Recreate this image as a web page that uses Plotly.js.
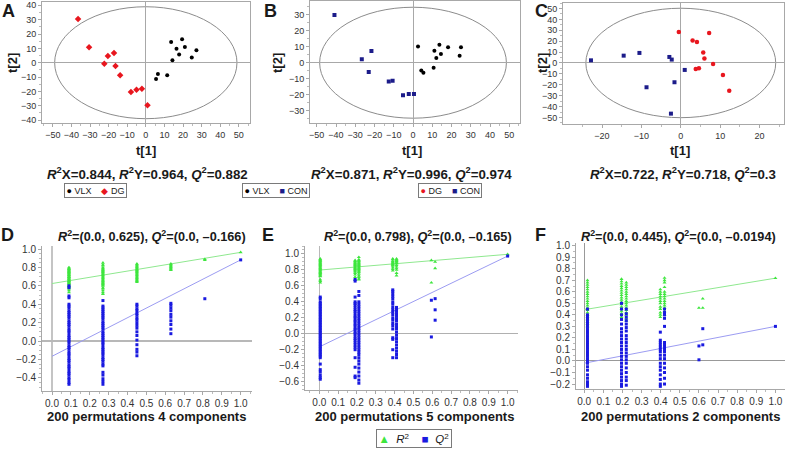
<!DOCTYPE html>
<html>
<head>
<meta charset="utf-8">
<script src="https://cdn.plot.ly/plotly-3.0.1.min.js"></script>
<style>html,body{margin:0;padding:0;background:#fff;}#chart{width:785px;height:449px;}</style>
</head>
<body>
<div id="chart"></div>
<script>
// ---------- Score plots (t[1], t[2]) ----------
const A_VLX_t1 = [13.6, 19.5, 16.5, 21.0, 27.2, 17.9, 24.7, 14.3, 6.5, 11.5, 5.5];
const A_VLX_t2 = [14.4, 16.3, 9.7, 10.9, 8.6, 5.8, 3.7, 1.7, -7.9, -8.8, -11.3];
const A_DG_t1  = [-36.4, -30.5, -20.4, -17.1, -22.3, -16.3, -13.8, -8.0, -5.0, -2.1, 0.9];
const A_DG_t2  = [30.4, 10.7, 4.7, 6.7, -0.7, -2.3, -8.8, -20.4, -18.8, -18.1, -29.6];

const B_VLX_t1 = [2.6, 13.7, 11.1, 18.2, 24.9, 14.5, 12.1, 24.2, 10.7, 4.3, 5.4];
const B_VLX_t2 = [10.2, 11.3, 7.5, 9.6, 9.6, 5.4, 2.9, 4.4, -3.1, -4.8, -6.3];
const B_CON_t1 = [-40.8, -21.6, -26.6, -23.0, -12.6, -10.6, -5.2, -2.2, 0.5];
const B_CON_t2 = [29.8, 7.3, 2.1, -5.8, -11.7, -11.3, -20.4, -19.6, -19.6];

const C_DG_t1  = [-0.5, 7.2, 3.0, 4.1, 5.7, 6.0, 8.2, 4.6, 3.8, 10.7, 12.3];
const C_DG_t2  = [28.4, 27.5, 20.5, 19.3, 9.5, 4.0, -0.9, -4.9, -5.5, -11.0, -25.4];
const C_CON_t1 = [-22.8, -14.5, -10.5, -2.9, -2.3, 1.0, -1.6, -8.7, -2.5];
const C_CON_t2 = [2.4, 6.7, 9.2, 5.5, 3.1, -6.4, -17.7, -22.3, -46.5];

// Hotelling T2 ellipse half-axes [t1, t2]
const A_ellipse = [49, 39];
const B_ellipse = [48.5, 34.7];
const C_ellipse = [24.1, 50.2];

const statsA = "<b><i>R</i><sup>2</sup>X=0.844, <i>R</i><sup>2</sup>Y=0.964, <i>Q</i><sup>2</sup>=0.882</b>";
const statsB = "<b><i>R</i><sup>2</sup>X=0.871, <i>R</i><sup>2</sup>Y=0.996, <i>Q</i><sup>2</sup>=0.974</b>";
const statsC = "<b><i>R</i><sup>2</sup>X=0.722, <i>R</i><sup>2</sup>Y=0.718, <i>Q</i><sup>2</sup>=0.3</b>";

// ---------- Permutation tests ----------
// D: 4 components
const D_cols = [0.09, 0.27, 0.45, 0.63, 0.81];
const D_R2 = [
  [0.80,0.79,0.785,0.78,0.77,0.76,0.755,0.75,0.74,0.735,0.73,0.72,0.715,0.71,0.70,0.695,0.69,0.68,0.675,0.67,0.66,0.655,0.65,0.64,0.635,0.63,0.62,0.61,0.60,0.59,0.58,0.57,0.55,0.53],
  [0.85,0.83,0.82,0.80,0.79,0.78,0.77,0.76,0.75,0.74,0.73,0.72,0.71,0.70,0.69,0.68,0.67,0.66,0.65,0.64,0.63,0.62,0.61,0.60,0.58,0.57,0.55,0.53,0.51],
  [0.84,0.83,0.82,0.81,0.80,0.79,0.78,0.77,0.76,0.75,0.74,0.73,0.72,0.71,0.70,0.69,0.68,0.67,0.66,0.65,0.64],
  [0.84,0.83,0.82,0.81,0.80,0.79,0.78,0.77],
  [0.89,0.88]
];
const D_Q2 = [
  [0.60,0.58,0.49,0.47,0.40,0.38,0.36,0.33,0.31,0.29,0.27,0.25,0.22,0.20,0.18,0.16,0.13,0.11,0.09,0.06,0.04,0.02,0.00,-0.02,-0.05,-0.07,-0.09,-0.12,-0.14,-0.16,-0.19,-0.21,-0.23,-0.26,-0.28,-0.30,-0.33,-0.35,-0.37,-0.40,-0.42,-0.45,-0.47],
  [0.44,0.38,0.36,0.34,0.32,0.30,0.28,0.26,0.24,0.21,0.19,0.17,0.15,0.13,0.10,0.08,0.06,0.04,0.02,0.00,-0.02,-0.04,-0.07,-0.09,-0.11,-0.13,-0.15,-0.18,-0.20,-0.22,-0.25,-0.27,-0.34,-0.37,-0.41,-0.44,-0.47],
  [0.40,0.38,0.35,0.33,0.30,0.28,0.25,0.23,0.20,0.17,0.14,0.10,0.06,0.01,-0.04,-0.09,-0.12,-0.16],
  [0.41,0.39,0.36,0.33,0.29,0.26,0.22,0.18,0.13,0.08],
  [0.46]
];
const D_R2_intercept = 0.625, D_R2_orig = 0.964;
const D_Q2_intercept = -0.166, D_Q2_orig = 0.882;

// E: 5 components
const E_cols = [0.005, 0.19, 0.21, 0.39, 0.41, 0.595, 0.615];
const E_R2 = [
  [0.94,0.93,0.92,0.91,0.90,0.89,0.88,0.87,0.86,0.85,0.84,0.83,0.82,0.81,0.80,0.79,0.78,0.77,0.76,0.75,0.74,0.73,0.72,0.68,0.66,0.64],
  [0.92,0.91,0.90,0.89,0.88,0.87,0.86,0.85,0.84,0.83,0.82,0.81,0.80,0.79,0.78,0.76,0.74,0.71,0.68],
  [0.96,0.93,0.92,0.91,0.90,0.89,0.88,0.87,0.86,0.85,0.84,0.83,0.82,0.81,0.80,0.79,0.78,0.77,0.75,0.73,0.71,0.69,0.68],
  [0.94,0.93,0.91,0.90,0.89,0.88,0.87,0.86,0.85,0.83,0.81,0.79],
  [0.94,0.93,0.92,0.91,0.90,0.89,0.88,0.86,0.84,0.82,0.80,0.76,0.73],
  [0.92,0.64],
  [0.90,0.82]
];
const E_Q2 = [
  [0.46,0.44,0.40,0.38,0.36,0.34,0.32,0.30,0.28,0.26,0.24,0.22,0.20,0.18,0.16,0.14,0.12,0.10,0.08,0.06,0.04,0.02,0.00,-0.02,-0.04,-0.06,-0.08,-0.10,-0.12,-0.14,-0.16,-0.18,-0.20,-0.22,-0.24,-0.26,-0.28,-0.30,-0.38,-0.45,-0.48,-0.52,-0.55,-0.57],
  [0.68,0.66,0.46,0.40,0.38,0.36,0.33,0.30,0.28,0.25,0.22,0.20,0.17,0.15,0.12,0.10,0.07,0.05,0.02,0.00,-0.03,-0.06,-0.08,-0.11,-0.14,-0.17,-0.20,-0.30,-0.42,-0.53,-0.55],
  [0.53,0.48,0.40,0.37,0.34,0.31,0.28,0.25,0.22,0.19,0.16,0.13,0.10,0.07,0.04,0.01,-0.02,-0.05,-0.08,-0.11,-0.14,-0.17,-0.20,-0.23,-0.26,-0.30,-0.34,-0.38,-0.43,-0.48,-0.53,-0.58,-0.62],
  [0.55,0.53,0.50,0.47,0.44,0.40,0.37,0.33,0.30,0.27,0.24,0.20,0.17,0.13,0.10,0.06,-0.05,-0.07,-0.20,-0.30],
  [0.33,0.31,0.28,0.25,0.22,0.19,0.16,0.12,0.09,0.06,0.02,-0.02,-0.06,-0.10,-0.14,-0.18,-0.22,-0.26,-0.30],
  [0.42,-0.04],
  [0.44,0.30,0.17]
];
const E_R2_intercept = 0.798, E_R2_orig = 0.996;
const E_Q2_intercept = -0.165, E_Q2_orig = 0.974;

// F: 2 components
const F_cols = [0.017, 0.195, 0.22, 0.398, 0.42, 0.60, 0.62];
const F_R2 = [
  [0.70,0.68,0.66,0.64,0.62,0.60,0.58,0.56,0.54,0.52,0.50,0.48,0.46,0.44,0.42,0.40,0.38,0.36,0.34,0.32,0.30],
  [0.71,0.69,0.67,0.65,0.63,0.61,0.59,0.57,0.55,0.53,0.51,0.49,0.47,0.45,0.43,0.41,0.38],
  [0.68,0.66,0.64,0.62,0.60,0.58,0.56,0.54,0.52,0.50,0.48,0.46,0.44,0.42,0.40,0.37,0.35],
  [0.62,0.60,0.58,0.56,0.54,0.52,0.50,0.47,0.45,0.42,0.40,0.38],
  [0.72,0.70,0.68,0.64,0.60,0.58,0.56,0.54,0.52,0.50,0.48,0.46,0.43,0.40],
  [0.46],
  [0.54,0.46]
];
const F_Q2 = [
  [0.45,0.40,0.38,0.36,0.34,0.32,0.30,0.28,0.26,0.24,0.22,0.20,0.18,0.16,0.14,0.12,0.10,0.08,0.06,0.04,0.02,0.00,-0.02,-0.05,-0.08,-0.12,-0.15,-0.18,-0.20,-0.22],
  [0.50,0.45,0.40,0.36,0.32,0.28,0.25,0.22,0.19,0.16,0.13,0.10,0.07,0.04,0.01,-0.02,-0.05,-0.08,-0.11,-0.14,-0.17,-0.20,-0.22],
  [0.45,0.41,0.38,0.35,0.32,0.29,0.26,0.22,0.19,0.16,0.13,0.10,0.07,0.04,0.01,-0.02,-0.06,-0.10,-0.14,-0.17,-0.21],
  [0.25,0.18,0.16,0.14,0.12,0.10,0.08,0.05,0.02,-0.02,-0.05,-0.08,-0.12,-0.16,-0.20,-0.22],
  [0.45,0.42,0.40,0.37,0.30,0.16,0.14,0.12,0.10,0.08,0.05,0.02,-0.02,-0.06,-0.10,-0.15,-0.20],
  [0.13,0.01],
  [0.28,0.14]
];
const F_R2_intercept = 0.445, F_R2_orig = 0.718;
const F_Q2_intercept = -0.0194, F_Q2_orig = 0.30;

const titleD = "<b><i>R</i><sup>2</sup>=(0.0, 0.625), <i>Q</i><sup>2</sup>=(0.0, –0.166)</b>";
const titleE = "<b><i>R</i><sup>2</sup>=(0.0, 0.798), <i>Q</i><sup>2</sup>=(0.0, –0.165)</b>";
const titleF = "<b><i>R</i><sup>2</sup>=(0.0, 0.445), <i>Q</i><sup>2</sup>=(0.0, –0.0194)</b>";
const xTitleD = "<b>200 permutations 4 components</b>";
const xTitleE = "<b>200 permutations 5 components</b>";
const xTitleF = "<b>200 permutations 2 components</b>";

// ---------- styles ----------
const W = 785, H = 449;
const FONT = "Liberation Sans, Arial, Helvetica, sans-serif";
const RED = "#e8161e", BLACK = "#000000", NAVY = "#1c1c8a";
const GREEN = "#3ee63e", BLUE = "#1a1ae0";
const GREEN_LINE = "#8fe88f", BLUE_LINE = "#9c9cf2";

function dx(a, b) { return [a / W, b / W]; }
function dy(top, bottom) { return [1 - bottom / H, 1 - top / H]; }

function flatX(cols, vals) { const out = []; vals.forEach((c, i) => c.forEach(() => out.push(cols[i]))); return out; }
function flatY(vals) { return [].concat(...vals); }

const traces = [];
function scatter(x, y, ax, color, symbol, size) {
  traces.push({type: "scatter", mode: "markers", x: x, y: y, xaxis: "x" + ax, yaxis: "y" + ax,
    marker: {color: color, symbol: symbol, size: size, line: {width: 0}}, showlegend: false, hoverinfo: "x+y"});
}
scatter(A_VLX_t1, A_VLX_t2, "", BLACK, "circle", 4);
scatter(A_DG_t1, A_DG_t2, "", RED, "diamond", 5);
scatter(B_VLX_t1, B_VLX_t2, "2", BLACK, "circle", 4);
scatter(B_CON_t1, B_CON_t2, "2", NAVY, "square", 4);
scatter(C_DG_t1, C_DG_t2, "3", RED, "circle", 4.5);
scatter(C_CON_t1, C_CON_t2, "3", NAVY, "square", 4);

function permPanel(ax, cols, R2, Q2, r2i, r2o, q2i, q2o) {
  traces.push({type: "scatter", mode: "lines", x: [0, 1], y: [r2i, r2o], xaxis: "x" + ax, yaxis: "y" + ax,
    line: {color: GREEN_LINE, width: 1}, showlegend: false, hoverinfo: "skip"});
  traces.push({type: "scatter", mode: "lines", x: [0, 1], y: [q2i, q2o], xaxis: "x" + ax, yaxis: "y" + ax,
    line: {color: BLUE_LINE, width: 1}, showlegend: false, hoverinfo: "skip"});
  scatter(flatX(cols, R2).concat([1]), flatY(R2).concat([r2o]), ax, GREEN, "triangle-up", 3.5);
  scatter(flatX(cols, Q2).concat([1]), flatY(Q2).concat([q2o]), ax, BLUE, "square", 3);
}
permPanel("4", D_cols, D_R2, D_Q2, D_R2_intercept, D_R2_orig, D_Q2_intercept, D_Q2_orig);
permPanel("5", E_cols, E_R2, E_Q2, E_R2_intercept, E_R2_orig, E_Q2_intercept, E_Q2_orig);
permPanel("6", F_cols, F_R2, F_Q2, F_R2_intercept, F_R2_orig, F_Q2_intercept, F_Q2_orig);

function axis(extra) {
  return Object.assign({
    showgrid: false, showline: true, linecolor: "#a8a8a8", linewidth: 1,
    ticks: "outside", ticklen: 3, tickcolor: "#a8a8a8", tickwidth: 1,
    tickfont: {size: 9, color: "#333", family: FONT},
    zeroline: true, zerolinecolor: "#a8a8a8", zerolinewidth: 1,
    fixedrange: true, automargin: false
  }, extra);
}
const minorScore = {ticks: "outside", ticklen: 2, dtick: 5, tickcolor: "#bbb"};
const minorPerm = {ticks: "outside", ticklen: 2, dtick: 0.05, tickcolor: "#bbb"};
const permFont = {size: 10, color: "#333", family: FONT};

const layout = {
  width: W, height: H, margin: {l: 0, r: 0, t: 0, b: 0},
  paper_bgcolor: "#fff", plot_bgcolor: "#fff", showlegend: false,
  font: {family: FONT, color: "#222"},
  xaxis:  axis({domain: dx(42, 250), range: [-55.8, 56], dtick: 10, mirror: true, anchor: "y", minor: minorScore}),
  yaxis:  axis({domain: dy(2, 123), range: [-42, 42.3], dtick: 10, mirror: true, anchor: "x", minor: minorScore}),
  xaxis2: axis({domain: dx(310, 519.7), range: [-53.5, 55.4], dtick: 10, mirror: true, anchor: "y2", minor: minorScore}),
  yaxis2: axis({domain: dy(1, 123), range: [-37.7, 38.6], dtick: 10, mirror: true, anchor: "x2", minor: minorScore}),
  xaxis3: axis({domain: dx(563, 784), range: [-29.9, 26.2], dtick: 10, mirror: true, anchor: "y3", minor: minorScore}),
  yaxis3: axis({domain: dy(3, 124), range: [-56, 55], dtick: 10, mirror: true, anchor: "x3", minor: minorScore}),
  xaxis4: axis({domain: dx(42, 252), range: [-0.053, 1.06], dtick: 0.1, tickformat: ".1f", anchor: "y4", zerolinecolor: "#c4c4c4", zerolinewidth: 2, tickfont: permFont, minor: minorPerm}),
  yaxis4: axis({domain: dy(246, 391), range: [-0.543, 1.033], dtick: 0.2, tickformat: ".1f", anchor: "x4", zerolinecolor: "#b8b8b8", zerolinewidth: 1.5, tickfont: permFont, minor: minorPerm}),
  xaxis5: axis({domain: dx(305, 518), range: [-0.076, 1.055], dtick: 0.1, tickformat: ".1f", anchor: "y5", zerolinecolor: "#b8b8b8", zerolinewidth: 1, tickfont: permFont, minor: minorPerm}),
  yaxis5: axis({domain: dy(246, 390), range: [-0.705, 1.10], dtick: 0.2, tickformat: ".1f", anchor: "x5", zerolinecolor: "#b0b0b0", zerolinewidth: 1, tickfont: permFont, minor: minorPerm}),
  xaxis6: axis({domain: dx(576, 785), range: [-0.043, 1.05], dtick: 0.1, tickformat: ".1f", anchor: "y6", zerolinecolor: "#999", zerolinewidth: 1, tickfont: permFont, minor: minorPerm}),
  yaxis6: axis({domain: dy(243, 389), range: [-0.243, 1.023], dtick: 0.1, tickformat: ".1f", anchor: "x6", zerolinecolor: "#999", zerolinewidth: 1, tickfont: permFont, minor: minorPerm}),
  shapes: [
    {type: "circle", xref: "x", yref: "y", x0: -A_ellipse[0], x1: A_ellipse[0], y0: -A_ellipse[1], y1: A_ellipse[1], line: {color: "#8c8c8c", width: 1}, layer: "below"},
    {type: "circle", xref: "x2", yref: "y2", x0: -B_ellipse[0], x1: B_ellipse[0], y0: -B_ellipse[1], y1: B_ellipse[1], line: {color: "#8c8c8c", width: 1}, layer: "below"},
    {type: "circle", xref: "x3", yref: "y3", x0: -C_ellipse[0], x1: C_ellipse[0], y0: -C_ellipse[1], y1: C_ellipse[1], line: {color: "#8c8c8c", width: 1}, layer: "below"}
  ],
  annotations: []
};

function ann(text, px, py, size, extra) {
  layout.annotations.push(Object.assign({text: text, xref: "paper", yref: "paper", x: px / W, y: 1 - py / H,
    xanchor: "center", yanchor: "middle", showarrow: false, font: {size: size, color: "#1a1a1a", family: FONT}}, extra || {}));
}
// panel letters
ann("<b>A</b>", 8, 11, 18);
ann("<b>B</b>", 270, 11, 18);
ann("<b>C</b>", 541, 11, 18);
ann("<b>D</b>", 7, 235, 18);
ann("<b>E</b>", 268, 235, 18);
ann("<b>F</b>", 540, 235, 18);
// axis titles
ann("<b>t[1]</b>", 146, 150, 13);
ann("<b>t[1]</b>", 412, 150, 13);
ann("<b>t[1]</b>", 680, 150, 13);
ann("<b>t[2]</b>", 13, 63, 13, {textangle: -90});
ann("<b>t[2]</b>", 278, 63, 13, {textangle: -90});
ann("<b>t[2]</b>", 543, 63, 13, {textangle: -90});
// stats
ann(statsA, 147, 173, 13.3);
ann(statsB, 411, 173, 13.3);
ann(statsC, 683, 173, 13.3);
// permutation titles
ann(titleD, 152, 236, 12.7);
ann(titleE, 418, 236, 12.7);
ann(titleF, 678, 236, 12.7);
ann(xTitleD, 146, 416, 13);
ann(xTitleE, 414, 416, 13);
ann(xTitleF, 680, 416, 13);
// legends
const NB = "\u00a0";
const SP = NB + NB + NB + NB;
const legBox = {bordercolor: "#7a7a7a", borderwidth: 1, borderpad: 1.5, bgcolor: "#fff"};
ann("<span style='color:#000'>●</span>" + NB + "VLX" + SP + "<span style='color:" + RED + "'>◆</span>" + NB + "DG", 95, 190.5, 9, legBox);
ann("<span style='color:#000'>●</span>" + NB + "VLX" + SP + "<span style='color:" + NAVY + "'>■</span>" + NB + "CON", 275.5, 190.5, 9, legBox);
ann("<span style='color:" + RED + "'>●</span>" + NB + "DG" + SP + "<span style='color:" + NAVY + "'>■</span>" + NB + "CON", 449.5, 190.5, 9, legBox);
ann("<span style='color:" + GREEN + "'>▲</span>" + NB + NB + "<i>R</i><sup>2</sup>" + SP + "<span style='color:" + BLUE + "'>■</span>" + NB + NB + "<i>Q</i><sup>2</sup>", 413.5, 438, 11.5, legBox);

Plotly.newPlot("chart", traces, layout, {staticPlot: true, displayModeBar: false});
</script>
</body>
</html>
